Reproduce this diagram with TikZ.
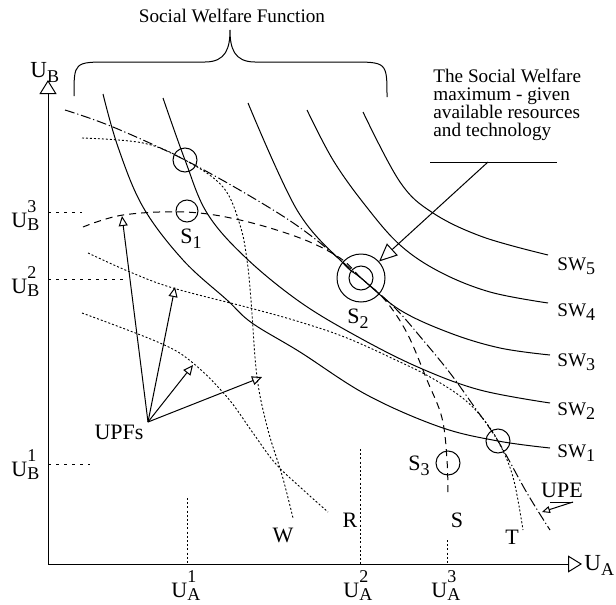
\documentclass[tikz,border=0pt]{standalone}
\usepackage{fontspec}
\setmainfont{Liberation Serif}
\usetikzlibrary{arrows.meta}

% sub- and superscripts set as small raised text
\newcommand{\lsub}[1]{\raisebox{-0.55ex}{\fontsize{9}{9}\selectfont #1}}
\newcommand{\Utick}[2]{U\raisebox{-1.6pt}{\fontsize{9}{9}\selectfont\shortstack[l]{#2\\#1}}}

\tikzset{
  swc/.style={line width=0.5pt},
  upf/.style={line width=0.45pt, dash pattern=on 1pt off 1pt},
  sdash/.style={line width=0.5pt, dash pattern=on 3.5pt off 2.5pt},
  upe/.style={line width=0.5pt, dash pattern=on 5pt off 1.4pt on 0.6pt off 1.4pt},
  htick/.style={line width=0.45pt, dash pattern=on 1.7pt off 2.3pt},
  vtick/.style={line width=0.45pt, dash pattern=on 1pt off 1.1pt},
  ring/.style={draw, circle, inner sep=0pt, line width=0.5pt},
  lab/.style={font=\fontsize{11}{11}\selectfont, inner sep=0pt},
  swlab/.style={font=\fontsize{9.6}{9.6}\selectfont, inner sep=0pt, anchor=base west},
  axtip/.style={-{Triangle[open,length=7pt,width=8.5pt]}},
  uptip/.style={-{Triangle[open,length=5pt,width=4.5pt]}},
  bigtip/.style={-{Triangle[open,length=9pt,width=8pt]}},
  tinytip/.style={-{Triangle[open,length=4pt,width=3.5pt]}},
}

\begin{document}
\begin{tikzpicture}[x=0.5pt,y=-0.5pt]
  \useasboundingbox (0,0) rectangle (616,605);

  % axes
  \coordinate (o) at (48,564);
  \coordinate (ytop) at (48,80);
  \coordinate (xend) at (582,564);
  \draw[axtip,line width=0.5pt] (o) -- (ytop);
  \draw[axtip,line width=0.5pt] (o) -- (xend);
  \node[lab,font=\fontsize{11.5}{11.5}\selectfont,anchor=base west] (ub) at (30,77) {U\lsub{B}};
  \node[lab,font=\fontsize{11.5}{11.5}\selectfont,anchor=base west] (ua) at (584,570) {U\lsub{A}};

  % tick lines and labels
  \coordinate (ub3) at (48,212);
  \coordinate (ub2) at (48,279);
  \coordinate (ub1) at (48,464);
  \draw[htick] (ub3) -- (82,212);
  \draw[htick] (ub2) -- (123,279);
  \draw[htick] (ub1) -- (90,464);
  \node[lab,anchor=base west] (lb3) at (11,227) {\Utick{B}{3}};
  \node[lab,anchor=base west] (lb2) at (11,293) {\Utick{B}{2}};
  \node[lab,anchor=base west] (lb1) at (11,476) {\Utick{B}{1}};
  \coordinate (ua1) at (187,564);
  \coordinate (ua2) at (360,564);
  \coordinate (ua3) at (447,564);
  \draw[vtick] (187,498) -- (ua1);
  \draw[vtick] (360,449) -- (ua2);
  \draw[vtick] (447,540) -- (ua3);
  \node[lab,anchor=base west] (la1) at (171,597) {\Utick{A}{1}};
  \node[lab,anchor=base west] (la2) at (343,597) {\Utick{A}{2}};
  \node[lab,anchor=base west] (la3) at (431,597) {\Utick{A}{3}};

  % social welfare contours
  \draw[swc] plot[smooth,tension=0.6] coordinates {(103,94) (118,147) (143,207) (183,260) (227,300) (252,323) (300,352) (367,395) (440,427) (498,441) (550,448)};
  \draw[swc] plot[smooth,tension=0.6] coordinates {(163,98) (185,160) (207,213) (245,257) (300,302) (360,338) (420,368) (480,390) (550,403)};
  \draw[swc] plot[smooth,tension=0.6] coordinates {(248,103) (297,210) (343,263) (361,278) (400,310) (450,333) (500,348) (550,355)};
  \draw[swc] plot[smooth,tension=0.6] coordinates {(307,110) (333,160) (365,205) (400,245) (440,272) (490,292) (548,303)};
  \draw[swc] plot[smooth,tension=0.6] coordinates {(363,112) (400,182) (433,213) (483,237) (548,255)};
  \node[swlab] (sw5) at (557,270) {SW\lsub{5}};
  \node[swlab] (sw4) at (557,316) {SW\lsub{4}};
  \node[swlab] (sw3) at (557,366) {SW\lsub{3}};
  \node[swlab] (sw2) at (557,415) {SW\lsub{2}};
  \node[swlab] (sw1) at (557,457) {SW\lsub{1}};

  % utility possibility frontiers
  \draw[upf] plot[smooth,tension=0.6] coordinates {(82,138) (143,143) (185,160) (223,187) (240,225) (247,260) (251,300) (257,377) (268,430) (282,475) (293,518)};
  \draw[upf] plot[smooth,tension=0.6] coordinates {(82,313) (160,343) (193,363) (227,397) (253,433) (275,463) (300,487) (328,512)};
  \draw[sdash] plot[smooth,tension=0.6] coordinates {(83,227) (123,215) (185,212) (240,220) (300,238) (340,258) (361,278) (385,300) (407,333) (427,380) (442,418) (447,460) (448,497)};
  \draw[upf] plot[smooth,tension=0.6] coordinates {(88,253) (130,272) (173,288) (250,308) (300,322) (347,338) (400,362) (430,377) (460,396) (480,415) (498,441) (513,477) (523,530)};
  % utility possibility envelope
  \draw[upe] plot[smooth,tension=0.6] coordinates {(65,110) (113,127) (185,160) (260,202) (310,235) (361,278) (395,308) (423,340) (450,373) (473,405) (498,441) (527,493) (550,530)};

  \node[lab] (w) at (283,535) {W};
  \node[lab] (r) at (350,520) {R};
  \node[lab] (s) at (457,520) {S};
  \node[lab] (t) at (512,537) {T};

  % marked points
  \node[ring,minimum size=12pt] (top) at (185,160) {};
  \node[ring,minimum size=11pt] (s1) at (187,211) {};
  \node[ring,minimum size=24pt] (s2o) at (361,278) {};
  \node[ring,minimum size=12pt] (s2i) at (361,278) {};
  \node[ring,minimum size=12pt] (s3) at (448,463) {};
  \node[ring,minimum size=12pt] (tp) at (498,441) {};
  \node[lab,anchor=base west] (s1l) at (180,243) {S\lsub{1}};
  \node[lab,anchor=base west] (s2l) at (347,323) {S\lsub{2}};
  \node[lab,anchor=base west] (s3l) at (408,470) {S\lsub{3}};

  % UPFs pointers
  \node[lab] (upfs) at (119,432) {UPFs};
  \coordinate (src) at (148,422);
  \coordinate (a1) at (122,216);
  \coordinate (a2) at (175,287);
  \coordinate (a3) at (193,365);
  \coordinate (a4) at (262,377);
  \draw[uptip,line width=0.5pt] (src) -- (a1);
  \draw[uptip,line width=0.5pt] (src) -- (a2);
  \draw[uptip,line width=0.5pt] (src) -- (a3);
  \draw[uptip,line width=0.5pt] (src) -- (a4);

  % UPE pointer
  \node[lab] (upe) at (562,490) {UPE};
  \coordinate (ue1) at (550,502);
  \coordinate (ue2) at (573,502);
  \coordinate (uetip) at (542,512);
  \draw[line width=0.5pt] (ue1) -- (ue2);
  \draw[tinytip,line width=0.5pt] (ue2) -- (uetip);

  % brace and its title
  \node[inner sep=0pt,anchor=base,font=\fontsize{9.6}{9.6}\selectfont] (swf) at (232,23) {Social Welfare Function};
  \draw[line width=0.5pt] (74,96) .. controls (74,62) .. (110,62) -- (205,62)
    .. controls (226,62) and (230,48) .. (230,30)
    .. controls (230,48) and (234,62) .. (255,62) -- (350,62)
    .. controls (387,62) .. (387,97);

  % maximum annotation
  \node[inner sep=0pt,anchor=north west,align=left,font=\fontsize{9.6}{8.95}\selectfont] (maxtxt) at (433,69)
    {The Social Welfare\\maximum - given\\available resources\\and technology};
  \coordinate (ul1) at (430,162);
  \coordinate (ul2) at (557,162);
  \coordinate (lead) at (488,162);
  \draw[line width=0.5pt] (ul1) -- (ul2);
  \draw[bigtip,line width=0.5pt] (lead) -- (s2o);
\end{tikzpicture}
\end{document}
